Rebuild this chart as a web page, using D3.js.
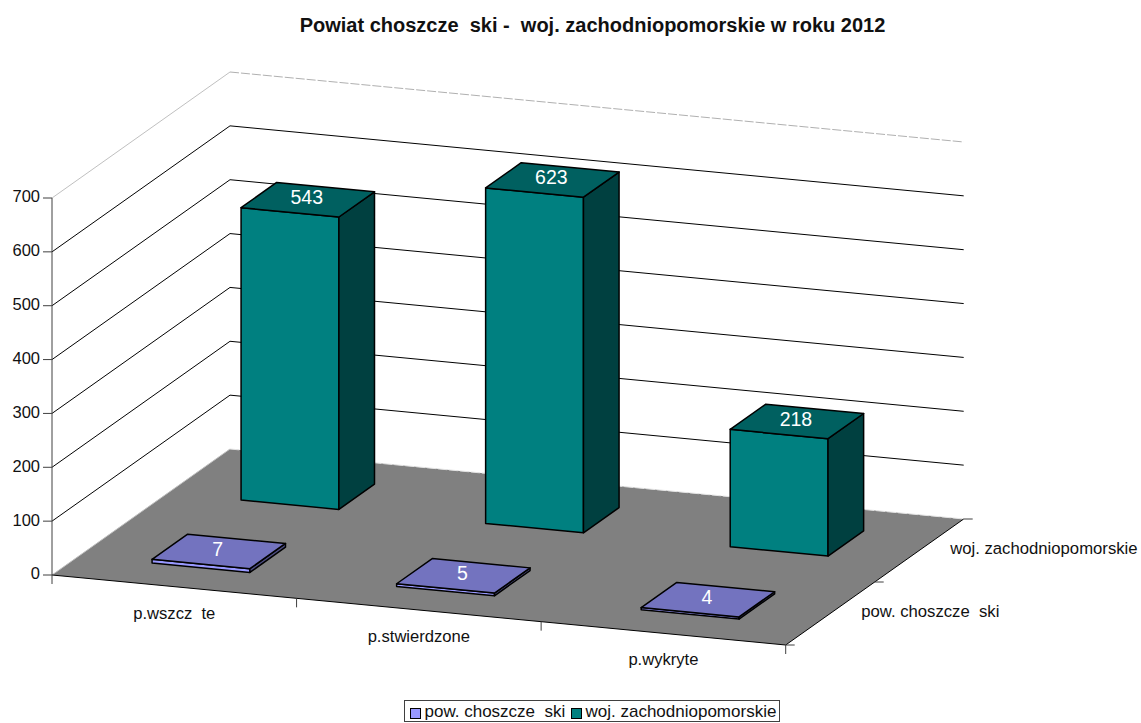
<!DOCTYPE html>
<html><head><meta charset="utf-8">
<script src="https://cdnjs.cloudflare.com/ajax/libs/d3/7.8.5/d3.min.js"></script>
<style>
html,body{margin:0;padding:0;background:#fff}
svg{display:block}
text{font-family:"Liberation Sans",Arial,sans-serif;white-space:pre;fill:#111}
</style></head><body><div id="c"></div>
<script>
const titleText = "Powiat choszcze  ski -  woj. zachodniopomorskie w roku 2012";
const categories = ["p.wszcz  te", "p.stwierdzone", "p.wykryte"];
const seriesNames = ["pow. choszcze  ski", "woj. zachodniopomorskie"];
const powValues = [7, 5, 4];
const wojValues = [543, 623, 218];
const valueTicks = [0, 100, 200, 300, 400, 500, 600, 700];

const W = 1141, H = 723;
const svg = d3.select("#c").append("svg").attr("width", W).attr("height", H);

const catX = d3.scaleLinear().domain([0, 3]).range([0, 733.7]);
const catY = d3.scaleLinear().domain([0, 3]).range([0, 70]);
const depX = d3.scaleLinear().domain([0, 2]).range([0, 178]);
const depY = d3.scaleLinear().domain([0, 2]).range([0, -126]);
const val = d3.scaleLinear().domain([0, 700]).range([0, 377]);
const O = [52, 575];
const P = (c, d, v) => [O[0] + catX(c) + depX(d), O[1] + catY(c) + depY(d) - val(v)];
const poly = (pts) => pts.map(p => p.join(",")).join(" ");
const line = (g, a, b, stroke, w, dash) => g.append("line")
  .attr("x1", a[0]).attr("y1", a[1]).attr("x2", b[0]).attr("y2", b[1])
  .attr("stroke", stroke).attr("stroke-width", w).attr("stroke-dasharray", dash || null);

const grid = svg.append("g");
valueTicks.forEach(t => {
  if (t === 0) return;
  const top = t === 700;
  line(grid, P(0, 0, t), P(0, 2, t), top ? "#c0c0c0" : "#000", 1);
  line(grid, P(0, 2, t), P(3, 2, t), top ? "#b0b0b0" : "#000", 1, top ? "9 2" : null);
});

svg.append("polygon")
  .attr("points", poly([P(0, 0, 0), P(3, 0, 0), P(3, 2, 0), P(0, 2, 0)]))
  .attr("fill", "#808080");
line(svg, P(0, 2, 0), P(3, 2, 0), "#e4e4e4", 1, "9 2");
line(svg, P(0, 0, 0), P(0, 2, 0), "#c0c0c0", 1);
line(svg, P(0, 0, 0), P(3, 0, 0), "#000", 1);
line(svg, P(3, 0, 0), P(3, 2, 0), "#000", 1);

const axis = svg.append("g");
line(axis, P(0, 0, 0), P(0, 0, 700), "#404040", 1);
valueTicks.forEach(t => {
  const p = P(0, 0, t);
  line(axis, [p[0] - 9, p[1]], p, "#404040", 1);
  axis.append("text").attr("x", p[0] - 12).attr("y", p[1])
    .attr("text-anchor", "end").attr("dominant-baseline", "middle")
    .attr("font-size", 16.5).text(t);
});
d3.range(0, 4).forEach(c => {
  const p = P(c, 0, 0);
  line(axis, p, [p[0], p[1] + 9], "#404040", 1);
});
d3.range(0, 3).forEach(d => {
  const p = P(3, d, 0);
  line(axis, p, [p[0] + 9, p[1]], "#404040", 1);
});
categories.forEach((c, i) => {
  const p = P(i + 0.5, 0, 0);
  axis.append("text").attr("x", p[0]).attr("y", p[1] + 27.5)
    .attr("text-anchor", "middle").attr("dominant-baseline", "middle")
    .attr("font-size", 16.6).text(c);
});
seriesNames.forEach((s, i) => {
  const p = P(3, i + 0.5, 0);
  axis.append("text").attr("x", p[0] + 31).attr("y", p[1] - 1)
    .attr("dominant-baseline", "middle").attr("font-size", 16.7).text(s);
});

const fills = [
  { front: "#9999ff", top: "#7373bf", side: "#4c4c80" },
  { front: "#008080", top: "#006060", side: "#004040" }
];
const seriesValues = [powValues, wojValues];
const bw = 0.2, bd = 0.2;
const bars = svg.append("g");
const labels = [];
[1, 0].forEach(s => {
  categories.forEach((_, i) => {
    const v = seriesValues[s][i], c = i + 0.5, d = s + 0.5;
    const g = bars.append("g").attr("stroke", "#000").attr("stroke-width", 1.5).attr("stroke-linejoin", "round");
    const [c0, c1, d0, d1] = [c - bw, c + bw, d - bd, d + bd];
    g.append("polygon").attr("fill", fills[s].front)
      .attr("points", poly([P(c0, d0, 0), P(c1, d0, 0), P(c1, d0, v), P(c0, d0, v)]));
    g.append("polygon").attr("fill", fills[s].side)
      .attr("points", poly([P(c1, d0, 0), P(c1, d1, 0), P(c1, d1, v), P(c1, d0, v)]));
    g.append("polygon").attr("fill", fills[s].top)
      .attr("points", poly([P(c0, d0, v), P(c1, d0, v), P(c1, d1, v), P(c0, d1, v)]));
    labels.push({ p: P(c, d, v), v });
  });
});
labels.forEach(l => {
  svg.append("text").attr("x", l.p[0] - 1).attr("y", l.p[1] - 1)
    .attr("text-anchor", "middle").attr("dominant-baseline", "middle")
    .attr("font-size", 19.5).style("fill", "#fff").text(l.v);
});

svg.append("text").attr("x", 592.5).attr("y", 32).attr("text-anchor", "middle")
  .attr("font-size", 20).attr("font-weight", "bold").text(titleText);

const lg = svg.append("g");
lg.append("rect").attr("x", 404.5).attr("y", 700.5).attr("width", 375).attr("height", 21)
  .attr("fill", "#fff").attr("stroke", "#404040").attr("stroke-width", 1);
const legX = d3.scaleOrdinal().domain(seriesNames).range([410, 571]);
seriesNames.forEach((s, i) => {
  lg.append("rect").attr("x", legX(s) + .5).attr("y", 708.5).attr("width", 10).attr("height", 10)
    .attr("fill", fills[i].front).attr("stroke", "#000").attr("stroke-width", 1);
  lg.append("text").attr("x", legX(s) + 14.5).attr("y", 717).attr("font-size", 17).text(s);
});
</script></body></html>
